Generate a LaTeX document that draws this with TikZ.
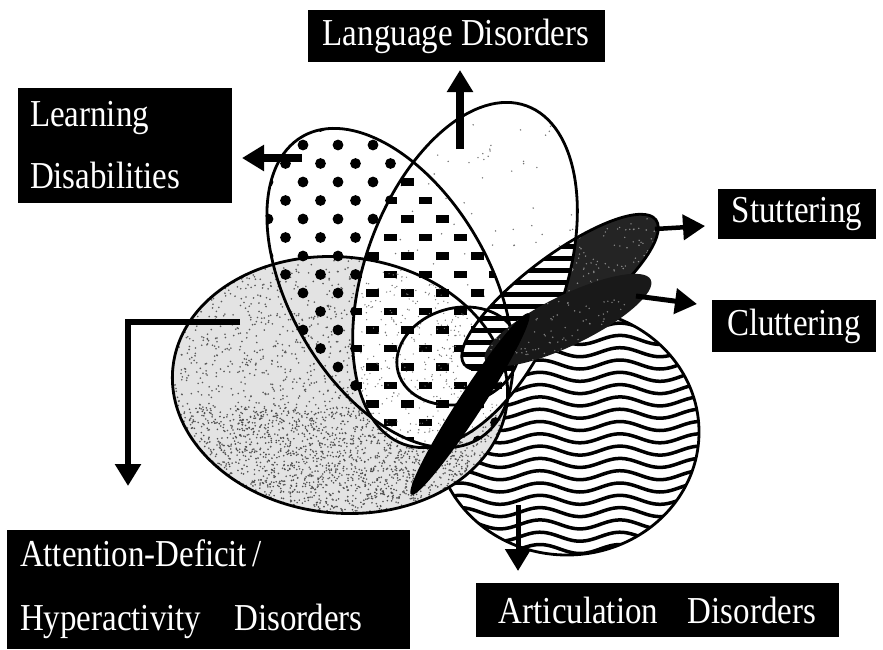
\documentclass[tikz,border=0pt]{standalone}
\usepackage{fontspec}
\setmainfont{Liberation Serif}
\usetikzlibrary{arrows.meta}
\newcommand{\tall}[1]{\scalebox{0.97}[1.12]{#1}}
\begin{document}
\begin{tikzpicture}[x=1pt,y=-1pt,
  outline/.style={draw=black, line width=2.8pt},
  pointer/.style={draw=black, line join=miter, -{Triangle[length=22pt,width=25pt]}},
  lbl/.style={fill=black, text=white, inner sep=0pt, font=\fontsize{34}{40}\selectfont}]
\def\eADHD{(340,385) ellipse [x radius=168, y radius=128, rotate=-6]}
\def\eLD{(390,288) ellipse [x radius=175, y radius=100, rotate=-60]}
\def\eLang{(465,275) ellipse [x radius=180, y radius=100, rotate=70]}
\def\eArt{(567,432) ellipse [x radius=132, y radius=123]}
\def\eSmall{(458,356) ellipse [x radius=62, y radius=48, rotate=15]}
\def\eStut{(560,292) ellipse [x radius=120, y radius=36, rotate=37]}
\def\eDark{(568,320) ellipse [x radius=92, y radius=25, rotate=26]}
\def\eBar{(470,404) ellipse [x radius=108, y radius=12, rotate=57]}
% background / bounding box
\fill[white] (0,0) rectangle (883,649);
\useasboundingbox (0,0) rectangle (883,649);
\pgfmathsetseed{11}
% Articulation ellipse with wavy lines
\fill[white] \eArt;
\begin{scope}
  \clip \eArt;
  \foreach \k in {0,...,21}
    \draw[line width=3.5pt] plot[domain=425:705,samples=50,smooth] (\x,{303+12.3*\k+4.5*sin(4.5*\x)});
\end{scope}
\draw[outline] \eArt;
% Learning disabilities base
\fill[white] \eLD;
% ADHD stipple
\begin{scope}
  \clip \eADHD;
  \fill[black!11] (150,240) rectangle (530,530);
  \foreach \k in {1,...,2400}{\fill[black!65] ({340+172*rand},{385+132*rand}) circle[radius=0.9];}
  \foreach \k in {1,...,1400}{\fill[black!70] ({320+150*rand},{462+55*rand}) circle[radius=0.9];}
\end{scope}
% Learning dots
\begin{scope}
  \clip \eLD;
  \foreach \j in {0,...,20}{\foreach \i in {0,...,9}{
    \fill ({233+35*\i+17.5*mod(\j+1,2)},{126.5+18.5*\j}) circle[radius=5.4];}}
\end{scope}
% Language
\fill[white] \eLang;
\begin{scope}
  \clip \eLang;
  \foreach \k in {1,...,90}{\fill[black!55] ({485+90*rand},{230+120*rand}) circle[radius=0.8];}
  \clip \eLD;
  \foreach \j in {0,...,20}{\foreach \i in {0,...,9}{
    \fill ({226+35*\i+17.5*mod(\j+1,2)},{122.7+18.5*\j}) rectangle ++(13,7.6);}}
\end{scope}
\begin{scope}
  \clip \eLang;
  \clip \eADHD;
  \foreach \k in {1,...,500}{\fill[black!55] ({440+80*rand},{360+90*rand}) circle[radius=0.7];}
\end{scope}
% Stuttering ellipse: dark outside language, stripes inside
\fill[black!86] \eStut;
\begin{scope}
  \clip \eStut;
  \foreach \k in {1,...,160}{\fill[black!45] ({610+60*rand},{250+45*rand}) circle[radius=0.8];}
  \clip \eLang;
  \fill[white] (380,150) rectangle (720,420);
  \foreach \k in {0,...,24}{\fill (380,{196+12*\k}) rectangle ++(340,4.8);}
\end{scope}
% outlines
\draw[outline] \eADHD;
\draw[outline] \eLD;
\draw[outline] \eLang;
\draw[outline] \eSmall;
\draw[outline] \eStut;
% dark band and black bar
\fill[black!90] \eDark;
\begin{scope}
  \clip \eDark;
  \foreach \k in {1,...,120}{\fill[black!50] ({560+70*rand},{330+30*rand}) circle[radius=0.8];}
\end{scope}
\fill[black] \eBar;
% arrow end points
\coordinate (ldA) at (302,158); \coordinate (ldB) at (242,158);
\coordinate (lgA) at (460,149); \coordinate (lgB) at (460,70);
\coordinate (stA) at (655,229); \coordinate (stB) at (705,226);
\coordinate (clA) at (636,296); \coordinate (clB) at (697,304);
\coordinate (adA) at (240,322); \coordinate (adB) at (128,322); \coordinate (adC) at (128,486);
\coordinate (arA) at (518,505); \coordinate (arB) at (518,571);
\draw[pointer, line width=8pt] (ldA) -- (ldB);
\draw[pointer, line width=8pt] (lgA) -- (lgB);
\draw[pointer, line width=4.5pt] (stA) -- (stB);
\draw[pointer, line width=5pt] (clA) -- (clB);
\draw[pointer, line width=6pt] (adA) -- (adB) -- (adC);
\draw[pointer, line width=5pt] (arA) -- (arB);
% label boxes
\node[lbl, minimum width=297, minimum height=52] (lang) at (456,36) {\tall{Language Disorders}};
\node[lbl, minimum width=214, minimum height=115, text width=190, align=left] (ld) at (125,145) {\tall{Learning}\\[22pt]\tall{Disabilities}};
\node[lbl, minimum width=158, minimum height=50] (stut) at (797,214) {\tall{Stuttering}};
\node[lbl, minimum width=164, minimum height=52] (clut) at (794,326) {\tall{Cluttering}};
\node[lbl, minimum width=403, minimum height=119, text width=377, align=left] (adhd) at (208.5,589.5) {\tall{Attention-Deficit\,/}\\[24pt]\tall{Hyperactivity\hspace{1em}Disorders}};
\node[lbl, minimum width=363, minimum height=54] (art) at (657.5,610) {\tall{Articulation\hspace{0.9em}Disorders}};
\end{tikzpicture}
\end{document}
